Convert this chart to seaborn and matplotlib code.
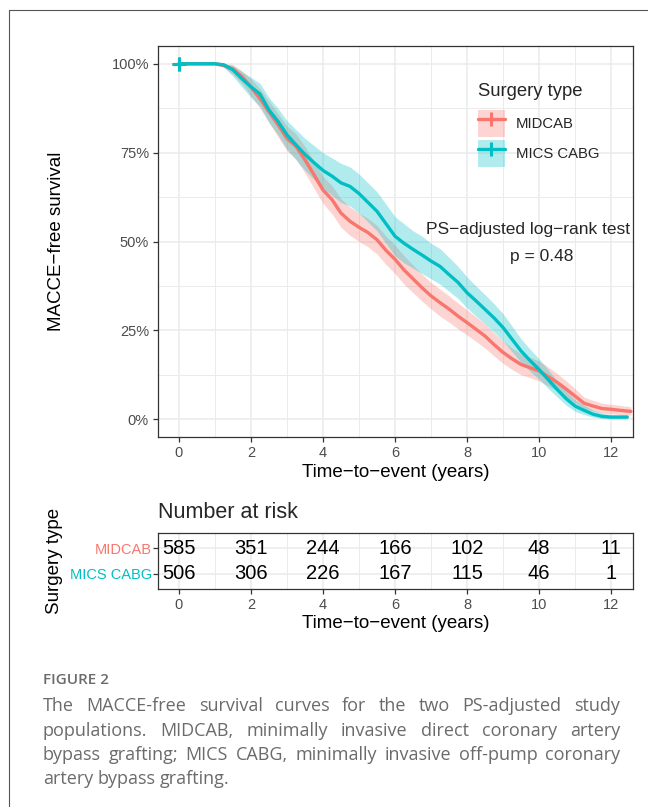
import matplotlib
matplotlib.use("Agg")
import matplotlib.pyplot as plt
from matplotlib.patches import Patch
from matplotlib.lines import Line2D
from matplotlib.legend_handler import HandlerTuple
import pandas as pd
import seaborn as sns

# Kaplan-Meier curves, every quarter year (last entry = end of follow-up)
times = [0, 0.25, 0.5, 0.75, 1, 1.25, 1.5, 1.75, 2, 2.25, 2.5, 2.75, 3, 3.25, 3.5, 3.75,
         4, 4.25, 4.5, 4.75, 5, 5.25, 5.5, 5.75, 6, 6.25, 6.5, 6.75, 7, 7.25, 7.5, 7.75,
         8, 8.25, 8.5, 8.75, 9, 9.25, 9.5, 9.75, 10, 10.25, 10.5, 10.75, 11, 11.25, 11.5,
         11.75, 12, 12.25]
end_midcab = 12.55
end_mics = 12.45

surv_midcab = [1, 1, 1, 1, 1, .995, .985, .964, .935, .902, .865, .829, .79, .768, .73, .688,
               .645, .618, .58, .557, .54, .525, .505, .475, .45, .42, .395, .37, .347, .328, .31, .29,
               .272, .253, .234, .21, .188, .17, .154, .145, .136, .12, .104, .085, .065, .045, .037,
               .03, .028, .025, .022]
lower_midcab = [1, 1, 1, 1, 1, .99, .97, .945, .91, .875, .835, .795, .755, .732, .693, .65,
                .607, .578, .54, .517, .50, .485, .465, .435, .41, .38, .356, .332, .31, .29, .273, .254,
                .237, .219, .20, .178, .157, .14, .125, .117, .108, .094, .08, .063, .046, .03, .023,
                .017, .015, .013, .011]
upper_midcab = [1, 1, 1, 1, 1, 1, .998, .98, .958, .93, .895, .86, .825, .803, .767, .726,
                .683, .657, .62, .597, .58, .565, .545, .515, .49, .46, .434, .408, .385, .366, .347, .327,
                .308, .288, .268, .243, .22, .2, .184, .174, .164, .147, .129, .108, .086, .062, .053,
                .045, .042, .039, .035]

surv_mics = [1, 1, 1, 1, 1, .997, .983, .958, .935, .915, .87, .838, .80, .772, .745, .722,
             .70, .684, .665, .655, .635, .61, .585, .55, .515, .495, .478, .462, .445, .43, .407, .385,
             .356, .333, .309, .285, .258, .225, .192, .165, .14, .112, .084, .058, .037, .025, .014,
             .008, .006, .006, .006]
lower_mics = [1, 1, 1, 1, 1, .99, .965, .935, .905, .88, .835, .80, .76, .73, .70, .675,
              .65, .63, .61, .60, .58, .555, .53, .495, .46, .44, .425, .41, .395, .38, .36, .34,
              .313, .29, .268, .245, .22, .19, .16, .135, .113, .087, .063, .04, .022, .013, .006,
              .002, .001, .001, .001]
upper_mics = [1, 1, 1, 1, 1, 1, .995, .978, .962, .945, .905, .875, .84, .815, .79, .77,
              .75, .735, .72, .71, .69, .665, .64, .605, .57, .55, .53, .515, .495, .48, .455, .43,
              .40, .375, .35, .325, .297, .262, .226, .197, .17, .14, .108, .08, .055, .04, .026,
              .017, .013, .013, .013]

groups = ["MIDCAB", "MICS CABG"]
colors = {"MIDCAB": "#F8766D", "MICS CABG": "#00BFC4"}

# number at risk table
risk_times = [0, 2, 4, 6, 8, 10, 12]
risk_midcab = [585, 351, 244, 166, 102, 48, 11]
risk_mics = [506, 306, 226, 167, 115, 46, 1]

caption_head = "FIGURE 2"
caption_lines = [
    "The MACCE-free survival curves for the two PS-adjusted study",
    "populations. MIDCAB, minimally invasive direct coronary artery",
    "bypass grafting; MICS CABG, minimally invasive off-pump coronary",
    "artery bypass grafting.",
]

sns.set_theme(style="white")
plt.rcParams["font.family"] = ["Liberation Sans", "DejaVu Sans"]

W, H = 648, 807
fig = plt.figure(figsize=(W / 100, H / 100), dpi=100)
fig.patch.set_facecolor("white")

def fx(px):
    return px / W

def fy(py):
    return 1 - py / H

ax = fig.add_axes([fx(158), fy(437), fx(632.7) - fx(158), fy(46) - fy(437)])
ax2 = fig.add_axes([fx(158), fy(589), fx(632.7) - fx(158), fy(533) - fy(589)])

rows = []
band = {}
for g, s, lo, up, end in [("MIDCAB", surv_midcab, lower_midcab, upper_midcab, end_midcab),
                          ("MICS CABG", surv_mics, lower_mics, upper_mics, end_mics)]:
    tt = times + [end]
    band[g] = (tt, lo, up)
    for t, v in zip(tt, s):
        rows.append({"time": t, "surv": v, "group": g})
df = pd.DataFrame(rows)

for g in groups:
    tt, lo, up = band[g]
    ax.fill_between(tt, lo, up, color=colors[g], alpha=0.3, lw=0)

sns.lineplot(data=df, x="time", y="surv", hue="group", hue_order=groups, palette=colors,
             estimator=None, sort=False, legend=False, lw=2.4, ax=ax)
for g in groups:
    ax.plot([0], [1], marker="+", ms=10, mew=2.2, color=colors[g], ls="none")

ax.set_xlim(-0.58, 12.6)
ax.set_ylim(-0.05, 1.05)
ax.set_xticks(range(0, 13, 2))
ax.set_xticks(range(1, 13, 2), minor=True)
ax.set_yticks([0, .25, .5, .75, 1])
ax.set_yticks([.125, .375, .625, .875], minor=True)
ax.set_yticklabels(["0%", "25%", "50%", "75%", "100%"])
ax.grid(which="major", color="#ebebeb", lw=1.1)
ax.grid(which="minor", color="#ebebeb", lw=0.7)
ax.set_axisbelow(True)
ax.tick_params(which="major", length=3.5, width=0.9, color="#333333", labelsize=10.5,
               labelcolor="#4d4d4d", pad=3, bottom=True, left=True)
ax.tick_params(which="minor", length=0)
for sp in ax.spines.values():
    sp.set_color("#333333")
    sp.set_linewidth(0.9)
ax.set_xlabel("Time\u2212to\u2212event (years)", fontsize=13.5, labelpad=2.5, color="black")
ax.set_ylabel("MACCE\u2212free survival", fontsize=13.5, color="black")
ax.yaxis.set_label_coords(-0.196, 0.5)

# legend: title drawn apart so the gap under it matches the reference
fig.text(fx(478), fy(92), "Surgery type", fontsize=13.3, va="center", ha="left")
handles = []
for g in groups:
    handles.append((Patch(facecolor=colors[g], alpha=0.3, lw=0),
                    Line2D([], [], color=colors[g], lw=2.4, marker="+", ms=10, mew=2.2)))
leg = ax.legend(handles, groups, loc="upper left",
                bbox_to_anchor=(fx(478), fy(110)), bbox_transform=fig.transFigure,
                frameon=False, fontsize=10.7, borderpad=0, borderaxespad=0,
                handlelength=1.8, handleheight=2.4, handletextpad=0.75, labelspacing=0.2,
                handler_map={tuple: HandlerTuple(ndivide=1)})

ax.text(9.7, 0.534, "PS\u2212adjusted log\u2212rank test", ha="center", va="center", fontsize=12.5)
ax.text(10.06, 0.458, "p = 0.48", ha="center", va="center", fontsize=12.5)

# risk table
for t, n in zip(risk_times, risk_midcab):
    ax2.text(t, 2, str(n), ha="center", va="center", fontsize=14.5, color="black")
for t, n in zip(risk_times, risk_mics):
    ax2.text(t, 1, str(n), ha="center", va="center", fontsize=14.5, color="black")
ax2.set_xlim(-0.58, 12.6)
ax2.set_ylim(0.4, 2.6)
ax2.set_xticks(range(0, 13, 2))
ax2.set_xticks(range(1, 13, 2), minor=True)
ax2.set_yticks([1, 2])
ax2.set_yticklabels(["MICS CABG", "MIDCAB"])
ax2.get_yticklabels()[0].set_color(colors["MICS CABG"])
ax2.get_yticklabels()[1].set_color(colors["MIDCAB"])
ax2.grid(which="major", color="#ebebeb", lw=1.1)
ax2.grid(which="minor", axis="x", color="#ebebeb", lw=0.7)
ax2.set_axisbelow(True)
ax2.tick_params(which="major", length=3.5, width=0.9, color="#333333", labelsize=10.5,
                pad=3, bottom=True, left=True)
ax2.tick_params(axis="x", labelcolor="#4d4d4d")
ax2.tick_params(axis="y", pad=1)
ax2.tick_params(which="minor", length=0)
for sp in ax2.spines.values():
    sp.set_color("#333333")
    sp.set_linewidth(0.9)
ax2.set_xlabel("Time\u2212to\u2212event (years)", fontsize=13.5, labelpad=2.5, color="black")
ax2.set_ylabel("Surgery type", fontsize=13.5, color="black")
ax2.yaxis.set_label_coords(-0.2, 0.5)
ax2.set_title("Number at risk", loc="left", fontsize=15.5, pad=11)

# outer frame of the figure panel
fig.add_artist(Line2D([fx(9), 1], [fy(10), fy(10)], transform=fig.transFigure, color="#555555", lw=0.8))
fig.add_artist(Line2D([fx(9), fx(9)], [fy(10), 0], transform=fig.transFigure, color="#555555", lw=0.8))

# caption, justified like the journal layout
cap_color = "#6b6b6b"
cap_left, cap_right = 43, 620
fig.text(fx(cap_left), fy(684.5), caption_head, fontsize=11, fontweight="semibold", color=cap_color,
         family=["Open Sans", "DejaVu Sans"], va="baseline")
fig.canvas.draw()
renderer = fig.canvas.get_renderer()
baselines = [711, 736, 760, 784]
for i, line in enumerate(caption_lines):
    words = line.split()
    txts = [fig.text(fx(cap_left), fy(baselines[i]), w, fontsize=13, color=cap_color,
                     family=["Open Sans", "DejaVu Sans"], va="baseline") for w in words]
    widths = [t.get_window_extent(renderer).width for t in txts]
    if i < len(caption_lines) - 1:
        gap = (cap_right - cap_left - sum(widths)) / (len(words) - 1)
    else:
        gap = 4.5
    x = cap_left
    for t, w in zip(txts, widths):
        t.set_x(fx(x))
        x += w + gap

fig.savefig("out.png", dpi=100)
